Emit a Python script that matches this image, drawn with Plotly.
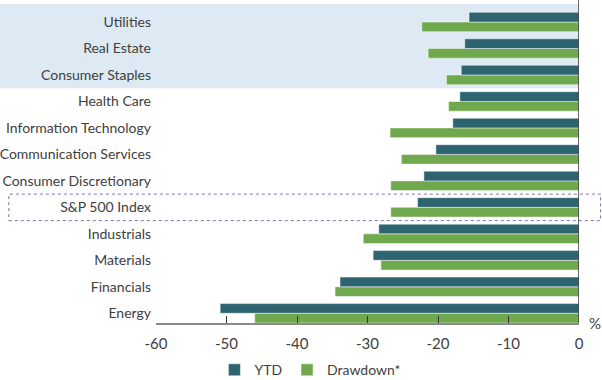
import plotly.graph_objects as go

categories = ["Utilities", "Real Estate", "Consumer Staples", "Health Care",
              "Information Technology", "Communication Services",
              "Consumer Discretionary", "S&P 500 Index", "Industrials",
              "Materials", "Financials", "Energy"]
ytd = [-15.6, -16.2, -16.7, -16.9, -17.9, -20.3, -22.0, -22.9, -28.4, -29.2, -33.9, -50.9]
drawdown = [-22.3, -21.4, -18.8, -18.5, -26.8, -25.2, -26.7, -26.7, -30.6, -28.1, -34.6, -46.0]
x_ticks = [-60, -50, -40, -30, -20, -10, 0]
x_tick_labels = ["-60", "-50", "-40", "-30", "-20", "-10", "0"]

cats_bottom_up = categories[::-1]
ytd_b = ytd[::-1]
dd_b = drawdown[::-1]

FONT = "Lato, sans-serif"
YTD_C = "#2d6470"
DD_C = "#70a84e"

fig = go.Figure()
fig.add_trace(go.Bar(y=cats_bottom_up, x=dd_b, orientation="h", name="Drawdown*",
                     marker=dict(color=DD_C, line=dict(color="rgba(255,255,255,0.6)", width=0.8)),
                     legendrank=2))
fig.add_trace(go.Bar(y=cats_bottom_up, x=ytd_b, orientation="h", name="YTD",
                     marker=dict(color=YTD_C, line=dict(color="rgba(255,255,255,0.6)", width=0.8)),
                     legendrank=1))

n = len(categories)
r0 = -0.367
r1 = 11.68

# shaded band for top three categories
fig.add_shape(type="rect", xref="paper", yref="y", x0=-0.37, x1=1.0, y0=n - 3.5, y1=r1,
              fillcolor="#ddeaf3", line=dict(width=0), layer="below")
# dashed box around S&P 500 Index
sp_idx = cats_bottom_up.index("S&P 500 Index")
fig.add_shape(type="rect", xref="paper", yref="y", x0=-0.348, x1=1.051,
              y0=sp_idx - 0.5, y1=sp_idx + 0.5,
              fillcolor="rgba(0,0,0,0)", line=dict(color="#7d6fae", width=1, dash="3px,3px"),
              layer="above")
# zero line
fig.add_shape(type="line", xref="x", yref="paper", x0=0, x1=0, y0=0, y1=1.013,
              line=dict(color="#3a3a3a", width=1.5), layer="above")

fig.add_annotation(text="%", xref="paper", yref="paper", x=1.037, y=0.0,
                   xanchor="center", yanchor="middle", showarrow=False,
                   font=dict(family=FONT, size=15, color="#404040"))

fig.update_layout(
    width=602, height=380,
    margin=dict(l=156, r=23, t=4, b=57, autoexpand=False),
    paper_bgcolor="white", plot_bgcolor="rgba(0,0,0,0)",
    barmode="group", bargap=0.267, bargroupgap=0,
    font=dict(family=FONT, size=14, color="#404040"),
    showlegend=True,
    legend=dict(orientation="h", x=0.365, y=-0.148, xanchor="center", yanchor="middle",
                font=dict(family=FONT, size=14, color="#404040"),
                itemwidth=30, tracegroupgap=0, traceorder="normal"),
    xaxis=dict(range=[-60, 0], tickvals=x_ticks, ticktext=x_tick_labels,
               ticks="inside", ticklen=7, tickwidth=1, automargin=False,
               tickcolor="#333333", showline=True, linecolor="#8a8a8a", linewidth=2,
               showgrid=False, zeroline=False, ticklabelstandoff=6,
               tickfont=dict(family=FONT, size=15, color="#404040")),
    yaxis=dict(type="category", categoryorder="array", categoryarray=cats_bottom_up,
               range=[r0, r1], showgrid=False, showline=False, zeroline=False,
               ticks="", ticklabelstandoff=4, automargin=False,
               tickfont=dict(family=FONT, size=14, color="#404040")),
)

fig.write_html("out.html", config={"displayModeBar": False},
               post_script="document.body.style.margin='0px';")
